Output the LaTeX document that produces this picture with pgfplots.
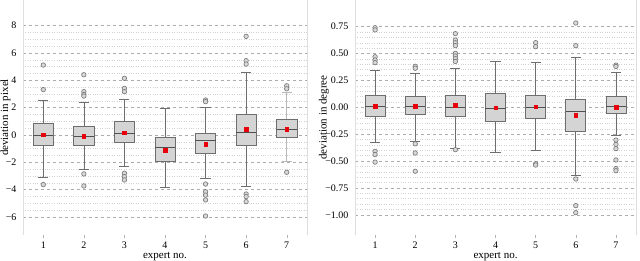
\documentclass[border=0pt]{standalone}
\usepackage{fontspec}
\setmainfont{Liberation Serif}
\usepackage{pgfplots}
\pgfplotsset{compat=1.18}
\usepgfplotslibrary{statistics}
\definecolor{boxfill}{HTML}{D4D4D4}
\definecolor{boxedge}{HTML}{6E6E6E}
\definecolor{medc}{HTML}{505050}
\definecolor{outedge}{HTML}{7A7A7A}
\definecolor{outfill}{HTML}{D8D8D8}
\definecolor{meanred}{HTML}{E8000B}
\makeatletter
\newcommand{\mytick}[1]{%
  \pgfmathfloatparsenumber{#1}\let\tv\pgfmathresult
  \pgfmathfloatgetflagstomacro\tv\tflag
  \pgfmathfloatabs@{\tv}\let\ta\pgfmathresult
  \ifnum\tflag=2 −\fi\pgfmathprintnumber{\ta}}
\makeatother
\pgfplotsset{
  mybox/.style={draw=boxedge, fill=boxfill, line width=0.7pt,
    mark=*, mark size=2.25pt,
    mark options={draw=outedge, fill=outfill, line width=0.65pt, solid}},
  common/.style={
    scale only axis, anchor=south west,
    height=235pt,
    xmin=0.5, xmax=7.5,
    xtick={1,2,3,4,5,6,7},
    /pgf/number format/assume math mode=true,
    separate axis lines,
    x axis line style={draw=none},
    y axis line style={draw=gray!25, line width=0.6pt},
    ytick style={draw=none},
    xtick style={draw=gray!60, line width=0.4pt},
    tick align=outside,
    major tick length=3pt,
    minor tick length=0pt,
    ymajorgrids, yminorgrids,
    major grid style={dashed, draw=gray!65, line width=0.5pt},
    minor grid style={dotted, draw=gray!35, line width=0.4pt},
    tick label style={font=\fontsize{10}{11}\selectfont},
    label style={font=\fontsize{11}{12}\selectfont},
    xlabel={expert no.},
    xlabel style={yshift=3pt},
    boxplot/draw direction=y,
    boxplot/box extend=0.5,
    boxplot/whisker extend=0.25,
    boxplot/every median/.style={draw=medc, line width=0.8pt},
    clip=false,
  },
}
\begin{document}
\begin{tikzpicture}
\path[use as bounding box] (0,0) rectangle (640pt,260pt);
% ---------------- left: pixel ----------------
\begin{axis}[common,
  at={(23pt,25pt)}, width=284pt,
  ymin=-7.32, ymax=9.88,
  ytick={-6,-4,-2,0,2,4,6,8},
  minor y tick num=3,
  yticklabel={\mytick{\tick}},
  ylabel={deviation in pixel},
  ylabel style={at={(axis description cs:0,0.5)}, anchor=center, yshift=17.5pt},
]
\addplot[mybox, boxplot prepared={draw position=1, median=0, upper quartile=0.86, lower quartile=-0.78, upper whisker=2.54, lower whisker=-3.12}]
  table[row sep=\\, y index=0] {d\\ 5.12\\ 3.32\\ -3.63\\};
\addplot[mybox, boxplot prepared={draw position=2, median=-0.07, upper quartile=0.61, lower quartile=-0.78, upper whisker=2.41, lower whisker=-2.54}]
  table[row sep=\\, y index=0] {d\\ 4.41\\ 3.17\\ 2.97\\ 2.85\\ -2.85\\ -3.73\\};
\addplot[mybox, boxplot prepared={draw position=3, median=0.15, upper quartile=0.98, lower quartile=-0.51, upper whisker=2.61, lower whisker=-2.32}]
  table[row sep=\\, y index=0] {d\\ 4.15\\ 3.41\\ 3.17\\ -2.8\\ -3.05\\ -3.29\\};
\addplot[mybox, boxplot prepared={draw position=4, median=-0.9, upper quartile=-0.17, lower quartile=-1.93, upper whisker=1.95, lower whisker=-3.83}]
  coordinates {};
\addplot[mybox, boxplot prepared={draw position=5, median=-0.39, upper quartile=0.12, lower quartile=-1.34, upper whisker=2.02, lower whisker=-3.17}]
  table[row sep=\\, y index=0] {d\\ 2.56\\ 2.44\\ -3.59\\ -4.15\\ -4.4\\ -4.75\\ -5.93\\};
\addplot[mybox, boxplot prepared={draw position=6, median=0.17, upper quartile=1.51, lower quartile=-0.78, upper whisker=4.58, lower whisker=-3.76}]
  table[row sep=\\, y index=0] {d\\ 7.22\\ 5.44\\ 5.19\\ -4.32\\ -4.51\\ -4.88\\};
\addplot[mybox, boxplot/every whisker/.style={draw=gray!55}, boxplot prepared={draw position=7, median=0.44, upper quartile=1.15, lower quartile=-0.17, upper whisker=3.1, lower whisker=-1.93}]
  table[row sep=\\, y index=0] {d\\ 3.6\\ 3.38\\ -2.73\\};
\addplot[only marks, mark=square*, mark size=1.8pt, color=meanred] coordinates {
  (1,0.02) (2,-0.1) (3,0.17) (4,-1.1) (5,-0.66) (6,0.41) (7,0.44)};
\end{axis}
% ---------------- right: degree ----------------
\begin{axis}[common,
  at={(355pt,25pt)}, width=281pt,
  ymin=-1.188, ymax=0.998,
  ytick={-1,-0.75,-0.5,-0.25,0,0.25,0.5,0.75},
  minor y tick num=4,
  yticklabel={\mytick{\tick}},
  yticklabel style={/pgf/number format/.cd, fixed, fixed zerofill, precision=2},
  ylabel={deviation in degree},
  ylabel style={at={(axis description cs:0,0.5)}, anchor=center, yshift=31pt},
]
\addplot[mybox, boxplot prepared={draw position=1, median=0.012, upper quartile=0.112, lower quartile=-0.084, upper whisker=0.344, lower whisker=-0.326}]
  table[row sep=\\, y index=0] {d\\ 0.74\\ 0.72\\ 0.47\\ 0.44\\ 0.415\\ -0.41\\ -0.44\\ -0.51\\};
\addplot[mybox, boxplot prepared={draw position=2, median=0.006, upper quartile=0.102, lower quartile=-0.065, upper whisker=0.32, lower whisker=-0.32}]
  table[row sep=\\, y index=0] {d\\ 0.381\\ 0.363\\ -0.34\\ -0.425\\ -0.595\\};
\addplot[mybox, boxplot prepared={draw position=3, median=0.0, upper quartile=0.112, lower quartile=-0.081, upper whisker=0.363, lower whisker=-0.379}]
  table[row sep=\\, y index=0] {d\\ 0.685\\ 0.625\\ 0.6\\ 0.573\\ 0.502\\ 0.477\\ 0.452\\ 0.426\\ -0.394\\};
\addplot[mybox, boxplot prepared={draw position=4, median=-0.01, upper quartile=0.127, lower quartile=-0.13, upper whisker=0.428, lower whisker=-0.416}]
  coordinates {};
\addplot[mybox, boxplot prepared={draw position=5, median=0.0, upper quartile=0.112, lower quartile=-0.1, upper whisker=0.421, lower whisker=-0.404}]
  table[row sep=\\, y index=0] {d\\ 0.601\\ 0.564\\ -0.525\\ -0.537\\};
\addplot[mybox, boxplot prepared={draw position=6, median=-0.037, upper quartile=0.074, lower quartile=-0.22, upper whisker=0.461, lower whisker=-0.636}]
  table[row sep=\\, y index=0] {d\\ 0.784\\ 0.573\\ -0.667\\ -0.915\\ -0.98\\};
\addplot[mybox, boxplot prepared={draw position=7, median=0.006, upper quartile=0.099, lower quartile=-0.053, upper whisker=0.322, lower whisker=-0.26}]
  table[row sep=\\, y index=0] {d\\ 0.392\\ 0.38\\ -0.305\\ -0.345\\ -0.385\\ -0.49\\ -0.57\\ -0.59\\};
\addplot[only marks, mark=square*, mark size=1.8pt, color=meanred] coordinates {
  (1,0.012) (2,0.012) (3,0.021) (4,-0.005) (5,0.006) (6,-0.072) (7,0.003)};
\end{axis}
\end{tikzpicture}
\end{document}
